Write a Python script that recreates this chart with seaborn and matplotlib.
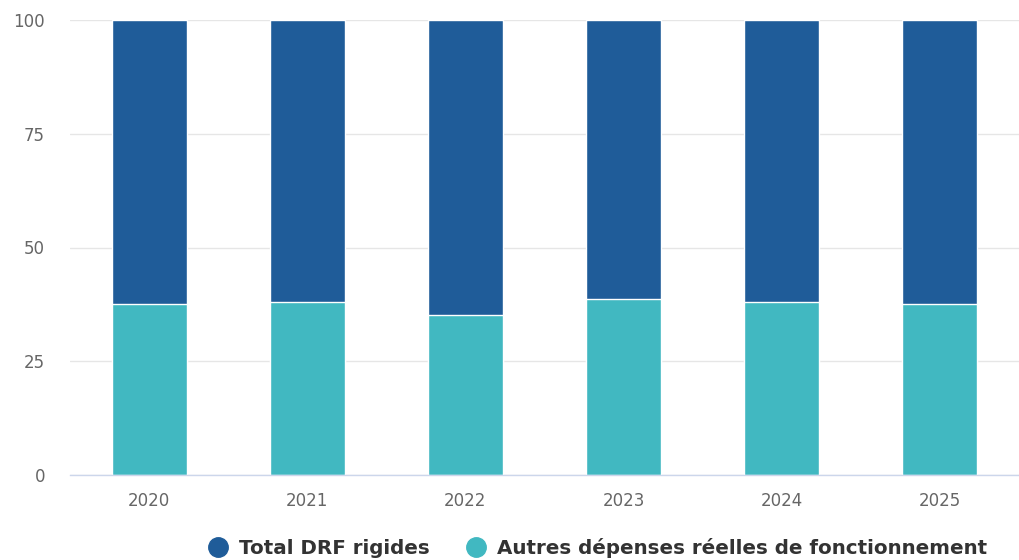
import matplotlib
matplotlib.use("Agg")
import matplotlib.pyplot as plt
from matplotlib.lines import Line2D
import seaborn as sns
import pandas as pd
import numpy as np

# Share of operating expenses (%), per year
annees = ["2020", "2021", "2022", "2023", "2024", "2025"]
autres_depenses = [37.6, 38.0, 35.2, 38.7, 38.0, 37.6]
drf_rigides = [62.4, 62.0, 64.8, 61.3, 62.0, 62.4]

serie_drf = "Total DRF rigides"
serie_autres = "Autres dépenses réelles de fonctionnement"
couleur_drf = "#1f5c99"
couleur_autres = "#41b8c1"

df = pd.DataFrame({
    "annee": annees,
    "autres": autres_depenses,
    "drf": drf_rigides,
})
df["cumul"] = df["autres"] + df["drf"]

sns.set_theme(style="white")
plt.rcParams["font.family"] = ["DejaVu Sans"]

fig = plt.figure(figsize=(10.19, 5.6), dpi=100)
ax = fig.add_axes([70 / 1019, 85 / 560, 1 - 70 / 1019, 455 / 560])

# Stacked bars: full stack in dark blue, lower segment in teal
sns.barplot(data=df, x="annee", y="cumul", color=couleur_drf, width=0.475,
            saturation=1, edgecolor="white", linewidth=1, ax=ax, zorder=3)
sns.barplot(data=df, x="annee", y="autres", color=couleur_autres, width=0.475,
            saturation=1, edgecolor="white", linewidth=1, ax=ax, zorder=4)

ax.set_ylim(0, 100)
ax.set_xlim(-0.5, 5.5 - 12 / 160)
ax.set_yticks([0, 25, 50, 75, 100])
ax.set_xlabel("")
ax.set_ylabel("")

ax.yaxis.grid(True, color="#e6e6e6", linewidth=1, zorder=0)
ax.set_axisbelow(True)
for side in ("top", "right", "left"):
    ax.spines[side].set_visible(False)
ax.spines["bottom"].set_color("#ccd6eb")
ax.spines["bottom"].set_linewidth(1)
ax.spines["bottom"].set_zorder(5)

ax.tick_params(axis="y", length=0, pad=18, labelsize=12, labelcolor="#666666")
ax.tick_params(axis="x", which="major", length=0, pad=12, labelsize=12,
               labelcolor="#666666")
ax.set_xticks(np.arange(-0.5, 6, 1.0), minor=True)
ax.tick_params(axis="x", which="minor", length=11, width=1, color="#ccd6eb",
               direction="out")
for lbl in ax.get_yticklabels():
    lbl.set_horizontalalignment("right")

handles = [
    Line2D([], [], marker="o", linestyle="none", markersize=14,
           markerfacecolor=couleur_drf, markeredgecolor=couleur_drf),
    Line2D([], [], marker="o", linestyle="none", markersize=14,
           markerfacecolor=couleur_autres, markeredgecolor=couleur_autres),
]
leg = fig.legend(handles, [serie_drf, serie_autres], loc="center",
                 bbox_to_anchor=(598 / 1019, 12 / 560), ncol=2, frameon=False,
                 prop={"weight": "bold", "size": 14.3}, handletextpad=0.6,
                 columnspacing=1.9, handlelength=0.9, borderpad=0)
for t in leg.get_texts():
    t.set_color("#333333")

fig.savefig("out.png", dpi=100)
